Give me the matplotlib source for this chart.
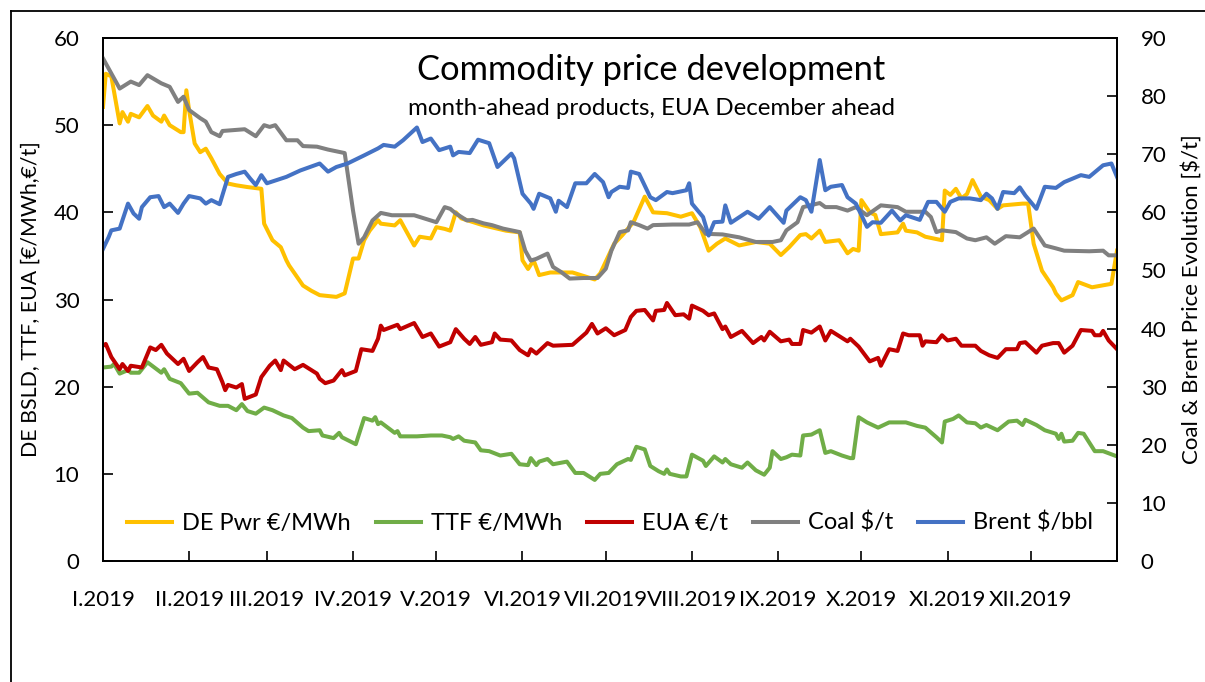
import numpy as np
import matplotlib
matplotlib.use("Agg")
import matplotlib.pyplot as plt
from matplotlib.lines import Line2D

plt.rcParams['font.family'] = ['Lato', 'DejaVu Sans']

# ---------------- data (day of year 2019, value) ----------------
pwr_days = [0, 1, 3, 6, 7, 9, 10, 13, 16, 18, 21, 22, 24, 28, 29, 30, 31, 33, 35, 37, 39, 42, 45, 48, 52, 57, 58,
            61, 64, 66, 67, 72, 75, 78, 84, 87, 90, 92, 94, 96, 99, 100, 105, 107, 112, 114, 118, 120, 123,
            125, 127, 129, 133, 137, 145, 150, 151, 153, 155, 157, 161, 169, 177, 179, 184, 187, 191, 195, 198,
            203, 208, 212, 215, 218, 221, 224, 229, 235, 240, 244, 247,
            251, 253, 255, 258, 260, 265, 268, 270, 272, 273, 276, 278, 280, 286, 288, 289, 293, 296, 302, 303,
            305, 307, 309, 311, 313, 316, 319, 322, 324, 331, 333, 335, 338, 342, 343, 345, 349, 351, 356, 363, 365]
pwr_vals = [52.1, 55.9, 55.6, 50.2, 51.5, 50.4, 51.3, 50.9, 52.2, 51.1, 50.4, 51.1, 50.0, 49.2, 49.2, 54.0, 51.7,
            47.9, 46.9, 47.3, 46.2, 44.4, 43.3, 43.1, 42.9, 42.7, 38.7, 36.8, 36.0, 34.5, 33.9, 31.6, 31.0, 30.5,
            30.3, 30.7, 34.7, 34.7, 36.8, 37.9, 39.1, 38.7, 38.5, 39.1, 36.2, 37.2, 37.0, 38.3, 38.1,
            37.9, 40.0, 39.3, 38.9, 38.5, 37.9, 37.7, 34.5, 33.5, 34.5, 32.8, 33.1, 33.1, 32.3, 33.0, 36.4, 37.4,
            38.9, 41.8, 40.0, 39.9, 39.5, 39.9, 38.3, 35.6, 36.4, 37.0, 36.2, 36.6, 36.4, 35.1, 36.0,
            37.4, 37.5, 37.0, 37.9, 36.6, 36.8, 35.3, 35.8, 35.6, 41.4, 40.0, 39.7, 37.5, 37.7, 38.7, 37.9, 37.7,
            37.2, 36.8, 42.5, 42.0, 42.7, 41.6, 42.1, 43.7, 41.8, 41.4, 40.4, 40.8, 41.0, 41.0, 36.4, 33.3, 31.4,
            30.7, 29.9, 30.5, 32.0, 31.4, 31.8, 35.6]

ttf_days = [0, 3, 4, 6, 9, 10, 13, 16, 21, 22, 24, 28, 31, 34, 38, 42, 45, 48, 50, 52, 55, 58, 61, 65, 68, 72, 74,
            78, 79, 83, 85, 86, 91, 92, 94, 97, 98, 99, 100, 105, 106, 107, 113, 118, 122, 125, 126, 128, 130, 134,
            136, 139, 143, 147, 150, 153, 154, 156, 157, 160, 162, 167, 170, 173, 177, 179, 182, 185, 189, 190,
            192, 195, 197, 200, 202, 203, 204, 208, 210, 212, 216, 217, 220, 223, 224, 226, 230, 232, 235, 238,
            240, 241, 244, 246, 248, 251, 252, 255, 258, 260, 262, 266, 269, 270, 272, 275, 279, 283, 289, 293,
            296, 300, 302, 303, 306, 308, 311, 314, 316, 318, 322, 324, 326, 329, 331, 332, 336, 339, 343, 344,
            345, 346, 349, 351, 353, 357, 360, 365]
ttf_vals = [22.2, 22.3, 22.6, 21.5, 21.9, 21.6, 21.6, 22.8, 21.6, 22.0, 20.9, 20.4, 19.2, 19.3, 18.2, 17.8, 17.8,
            17.3, 18.0, 17.2, 16.9, 17.6, 17.3, 16.7, 16.4, 15.3, 14.9, 15.0, 14.4, 14.1, 14.7, 14.2, 13.4, 14.4,
            16.4, 16.1, 16.5, 15.7, 15.9, 14.7, 14.9, 14.3, 14.3, 14.4, 14.4, 14.2, 14.0, 14.3, 13.8, 13.6,
            12.7, 12.6, 12.1, 12.3, 11.1, 11.0, 11.8, 11.0, 11.4, 11.7, 11.1, 11.4, 10.1, 10.1, 9.3, 10.0, 10.1,
            11.1, 11.7, 11.6, 13.1, 12.8, 10.9, 10.3, 10.0, 10.5, 10.0, 9.7, 9.7, 12.2, 11.5, 10.9, 12.0, 11.3,
            11.7, 11.1, 10.7, 11.3, 10.4, 9.9, 10.7, 12.6, 11.7, 11.9, 12.2, 12.1, 14.4, 14.5, 15.0, 12.4, 12.6,
            12.1, 11.8, 11.8, 16.5, 15.9, 15.3, 15.9, 15.9, 15.5, 15.3, 14.2, 13.6, 16.0, 16.3, 16.7, 15.9, 15.8,
            15.3, 15.6, 15.0, 15.5, 16.0, 16.1, 15.6, 16.2, 15.6, 15.0, 14.6, 14.0, 14.6, 13.7, 13.8, 14.7, 14.6,
            12.6, 12.6, 12.0]

eua_days = [0, 1, 3, 6, 7, 9, 10, 14, 17, 19, 21, 23, 27, 29, 31, 34, 36, 38, 41, 43, 44, 45, 48, 50, 51, 55, 57,
            60, 62, 64, 65, 69, 72, 77, 78, 80, 83, 86, 87, 91, 93, 97, 99, 100, 101, 106, 107, 112, 115, 118, 121,
            125, 127, 130, 132, 134, 136, 140, 141, 143, 147, 150, 153, 154, 156, 160, 162, 169, 174, 176, 178,
            181, 184, 188, 190, 192, 195, 198, 199, 202, 203, 206, 209, 211, 212, 216, 218, 220, 223, 224, 226,
            230, 234, 237, 238, 240, 244, 247, 248, 251, 252, 255, 258, 260, 262, 268, 269, 272, 276, 279, 280,
            283, 286, 288, 290, 294, 295, 296, 300, 302, 304, 307, 309, 314, 316, 319, 322, 325, 329, 330, 332,
            336, 338, 342, 344, 346, 349, 352, 356, 357, 359, 360, 362, 365]
eua_vals = [24.7, 24.9, 23.4, 22.0, 22.6, 21.8, 22.4, 22.2, 24.5, 24.2, 24.8, 23.8, 22.6, 23.2, 21.8, 22.8, 23.4,
            22.2, 22.0, 20.5, 19.6, 20.2, 19.9, 20.3, 18.6, 19.1, 21.1, 22.4, 23.0, 21.9, 23.0, 22.0, 22.5, 21.5,
            20.9, 20.4, 20.7, 21.9, 21.3, 21.8, 24.3, 24.1, 25.5, 27.0, 26.5, 27.1, 26.6, 27.3, 25.7, 26.1, 24.6,
            25.1, 26.6, 25.5, 24.9, 25.7, 24.8, 25.1, 26.1, 25.4, 25.3, 24.2, 23.6, 24.3, 23.8, 25.0, 24.7, 24.8,
            26.2, 27.2, 26.1, 26.7, 25.9, 26.5, 28.0, 28.7, 28.8, 27.6, 28.7, 28.8, 29.6, 28.2, 28.3, 27.8, 29.3,
            28.7, 28.2, 28.4, 26.6, 26.9, 25.7, 26.4, 25.0, 25.7, 25.3, 26.3, 25.2, 25.4, 24.9, 24.9, 26.5, 26.2,
            26.9, 25.3, 26.4, 25.2, 25.5, 24.6, 22.9, 23.3, 22.4, 24.3, 24.1, 26.1, 25.9, 25.9, 24.7, 25.2, 25.1,
            25.9, 25.3, 25.5, 24.7, 24.7, 24.1, 23.6, 23.3, 24.3, 24.3, 25.0, 25.1, 23.9, 24.7, 25.0, 25.0, 23.9,
            24.7, 26.5, 26.4, 25.9, 25.9, 26.4, 25.3, 24.3]

coal_days = [0, 3, 6, 9, 10, 13, 16, 21, 24, 27, 29, 31, 35, 37, 39, 42, 43, 51, 55, 58, 60, 62, 66, 70, 72, 77,
             81, 87, 90, 92, 94, 97, 100, 104, 112, 120, 123, 125, 127, 131, 133, 137, 140, 144, 150, 152, 154,
             156, 160, 162, 165, 168, 173, 178, 181, 183, 186, 189, 190, 193, 196, 198, 205, 211, 214, 217, 223,
             229, 235, 241, 244, 246, 250, 252, 258, 260, 264, 268, 271, 275, 280, 286, 289, 296, 298, 300, 302,
             307, 311, 314, 318, 321, 325, 330, 335, 339, 343, 346, 355, 360, 362, 365]
coal_vals = [86.5, 83.9, 81.3, 82.2, 82.5, 81.9, 83.6, 82.2, 81.6, 79.0, 79.9, 77.6, 76.2, 75.6, 73.8, 73.1, 74.0,
             74.3, 73.1, 75.0, 74.7, 75.0, 72.4, 72.4, 71.4, 71.3, 70.8, 70.2, 60.3, 54.6, 55.7, 58.6, 59.9, 59.5,
             59.5, 58.3, 60.9, 60.6, 59.8, 58.6, 58.7, 58.1, 57.8, 57.2, 56.6, 53.4, 51.7, 52.0, 52.9, 50.6, 49.7,
             48.6, 48.7, 48.7, 50.3, 53.4, 56.6, 56.9, 58.3, 57.8, 57.2, 57.8, 57.9, 57.9, 58.3, 56.3, 56.2, 55.7,
             54.9, 54.9, 55.2, 56.9, 58.3, 60.9, 61.6, 60.9, 60.9, 60.3, 60.9, 59.5, 61.2, 60.9, 60.1, 60.1, 59.2,
             56.6, 56.9, 56.6, 55.5, 55.2, 55.7, 54.6, 55.9, 55.7, 57.2, 54.3, 53.8, 53.4, 53.3, 53.4, 52.6, 52.6]

brent_days = [0, 2, 3, 6, 9, 11, 13, 14, 17, 20, 22, 24, 27, 29, 31, 35, 37, 39, 42, 45, 48, 51, 53, 55, 57, 59,
              66, 71, 78, 81, 84, 88, 94, 99, 101, 105, 108, 113, 115, 118, 121, 125, 126, 128, 132, 135, 139,
              142, 147, 148, 151, 154, 155, 157, 161, 163, 164, 167, 170, 174, 177, 180, 182, 183, 186, 189, 190,
              193, 197, 199, 203, 205, 210, 211, 212, 216, 218, 220, 223, 224, 226, 232, 236, 240, 245, 246, 251,
              253, 255, 258, 260, 262, 266, 268, 271, 275, 277, 280, 284, 287, 289, 294, 297, 300, 303, 305, 308,
              312, 316, 318, 320, 322, 324, 328, 330, 332, 336, 339, 343, 346, 349, 352, 355, 360, 363, 365]
brent_vals = [53.7, 55.7, 56.9, 57.2, 61.5, 59.8, 58.9, 60.9, 62.6, 62.8, 60.9, 61.5, 59.9, 61.5, 62.8, 62.4, 61.5,
              62.1, 61.4, 66.1, 66.6, 67.0, 65.8, 64.7, 66.4, 65.0, 66.1, 67.2, 68.4, 67.0, 67.8, 68.4, 69.8, 71.0,
              71.6, 71.3, 72.4, 74.6, 72.1, 72.7, 70.7, 71.3, 69.8, 70.4, 70.2, 72.5, 71.9, 67.8, 70.1, 69.3, 63.2,
              61.5, 60.6, 63.2, 62.4, 60.1, 62.0, 60.9, 65.0, 65.0, 66.6, 65.2, 62.6, 63.5, 64.4, 64.2, 67.0, 66.6,
              62.6, 62.1, 63.5, 63.3, 63.8, 65.0, 61.5, 59.2, 56.0, 58.3, 58.4, 61.2, 58.2, 60.1, 58.9, 60.9, 58.2,
              60.3, 62.6, 62.1, 60.1, 69.0, 63.8, 64.4, 64.7, 62.6, 61.5, 57.5, 58.3, 58.2, 60.3, 58.6, 59.5, 58.7,
              61.8, 61.8, 60.1, 61.8, 62.4, 62.4, 62.1, 63.2, 62.4, 60.6, 63.5, 63.3, 64.3, 62.9, 60.6, 64.4, 64.2,
              65.2, 65.8, 66.4, 66.1, 68.1, 68.4, 66.1]

month_labels = ["I.2019", "II.2019", "III.2019", "IV.2019", "V.2019", "VI.2019",
                "VII.2019", "VIII.2019", "IX.2019", "X.2019", "XI.2019", "XII.2019"]
series_names = ["DE Pwr €/MWh", "TTF €/MWh", "EUA €/t", "Coal $/t", "Brent $/bbl"]
series_colors = ["#FFC000", "#70AD47", "#C00000", "#808080", "#4472C4"]

start = np.datetime64("2019-01-01")


def to_dates(days):
    return start + np.array(days, dtype="timedelta64[D]")


# ---------------- figure ----------------
W, H = 1205, 682
fig = plt.figure(figsize=(W / 100, H / 100), dpi=100)
ax = fig.add_axes([103 / W, 1 - 561 / H, (1117 - 103) / W, (561 - 38) / H])
ax2 = ax.twinx()

lw = 2.9
ax.plot(to_dates(pwr_days), pwr_vals, color=series_colors[0], lw=lw, solid_joinstyle="round")
ax.plot(to_dates(ttf_days), ttf_vals, color=series_colors[1], lw=lw, solid_joinstyle="round")
ax.plot(to_dates(eua_days), eua_vals, color=series_colors[2], lw=lw, solid_joinstyle="round")
ax2.plot(to_dates(coal_days), coal_vals, color=series_colors[3], lw=lw, solid_joinstyle="round")
ax2.plot(to_dates(brent_days), brent_vals, color=series_colors[4], lw=lw, solid_joinstyle="round")

ax.set_ylim(0, 60)
ax2.set_ylim(0, 90)
ax.set_yticks(range(0, 61, 10))
ax2.set_yticks(range(0, 91, 10))
ax.set_xlim(np.datetime64("2019-01-01"), np.datetime64("2020-01-01"))

tick_dates = [np.datetime64("2019-%02d-01" % m) for m in range(1, 13)] + [np.datetime64("2020-01-01")]
ax.set_xticks(tick_dates)
ax.set_xticklabels(month_labels + [""])

fs = 16
ax.tick_params(axis="y", direction="in", length=7, width=1.2, labelsize=fs, pad=17)
ax2.tick_params(axis="y", direction="in", length=7, width=1.2, labelsize=fs, pad=17)
ax.tick_params(axis="x", direction="in", length=7, width=1.2, labelsize=fs, pad=21)
for a in (ax, ax2):
    for s in a.spines.values():
        s.set_linewidth(1.3)
        s.set_color("black")

ax.set_ylabel("DE BSLD, TTF, EUA [€/MWh,€/t]", fontsize=15.3, labelpad=9)
ax2.set_ylabel("Coal & Brent Price Evolution [$/t]", fontsize=16, labelpad=10)

ax.text(0.541, 0.938, "Commodity price development", transform=ax.transAxes,
        ha="center", va="center", fontsize=24.8)
ax.text(0.541, 0.866, "month-ahead products, EUA December ahead", transform=ax.transAxes,
        ha="center", va="center", fontsize=17.4)

handles = [Line2D([0], [0], color=c, lw=lw) for c in series_colors]
ax2.legend(handles, series_names, loc="center", bbox_to_anchor=(0.5, 0.073), ncol=5,
           frameon=False, fontsize=17, handlelength=1.9, handletextpad=0.42, columnspacing=1.06)

# outer chart border (left and top)
fig.add_artist(Line2D([11 / W, 11 / W], [0, 1 - 11 / H], transform=fig.transFigure, color="black", lw=1.3))
fig.add_artist(Line2D([11 / W, 1], [1 - 11 / H, 1 - 11 / H], transform=fig.transFigure, color="black", lw=1.3))

fig.savefig("out.png", dpi=100)
